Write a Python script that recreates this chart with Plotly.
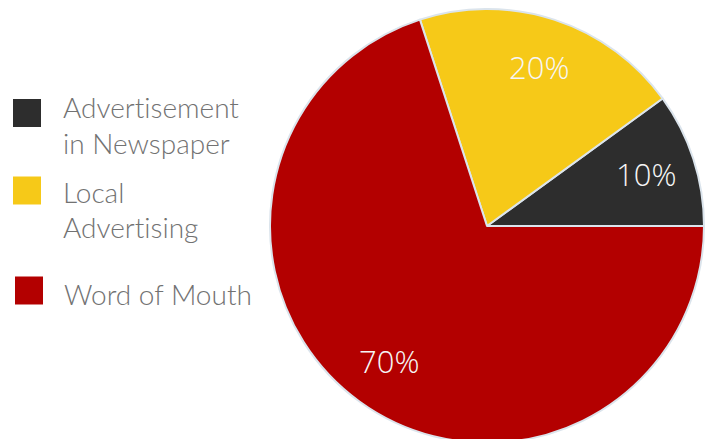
import math
import plotly.graph_objects as go

# Lead-source shares
categories = ["Advertisement in Newspaper", "Local Advertising", "Word of Mouth"]
legend_lines = [["Advert\u200cisement", "in Newspaper"], ["Local", "Advert\u200cising"], ["Word of Mouth"]]
values = [10, 20, 70]
colors = ["#2d2d2d", "#f6c918", "#b30000"]

W, H = 705, 444

# pie placement (pixels)
pie_left, pie_right = 270, 704
pie_top = 9
pie_size = pie_right - pie_left
total = sum(values)

# first slice starts at 3 o'clock and slices run counterclockwise
first_span = 360 * values[0] / total

fig = go.Figure(
    go.Pie(
        labels=categories,
        values=values,
        sort=False,
        direction="counterclockwise",
        rotation=90 - first_span,
        marker=dict(colors=colors, line=dict(color="#dbe4ec", width=2)),
        textinfo="none",
        hoverinfo="label+percent",
        showlegend=False,
        domain=dict(x=[pie_left / W, pie_right / W],
                    y=[1 - (pie_top + pie_size) / H, 1 - pie_top / H]),
    )
)

# percentage labels placed at each slice's mid-angle
cx = (pie_left + pie_right) / 2
cy = pie_top + pie_size / 2
R = pie_size / 2
start = 0.0
annotations = []
for v in values:
    span = 360 * v / total
    mid = math.radians(start + span / 2)
    start += span
    px = cx + 0.77 * R * math.cos(mid)
    py = cy - 0.77 * R * math.sin(mid)
    annotations.append(dict(
        x=px / W, y=1 - py / H, xref="paper", yref="paper",
        text=f"{round(100 * v / total)}%", showarrow=False,
        font=dict(family="Open Sans", size=31, color="#f6f6f6", weight=300),
        xanchor="center", yanchor="middle",
    ))

# hand-built legend: swatches and label lines
swatch_rows = [113, 190.5, 290.5]
swatch_x = [13, 13, 15]
line_rows = [[107, 143], [192, 227], [294]]
text_x = [61, 61, 62]
shapes = []
for lines, col, yc, sx, tx, rows in zip(legend_lines, colors, swatch_rows, swatch_x, text_x, line_rows):
    shapes.append(dict(
        type="rect", xref="paper", yref="paper",
        x0=sx / W, x1=(sx + 28) / W, y0=1 - (yc + 14) / H, y1=1 - (yc - 14) / H,
        fillcolor=col, line=dict(width=0),
    ))
    for line, ly in zip(lines, rows):
        annotations.append(dict(
            x=tx / W, y=1 - ly / H, xref="paper", yref="paper",
            text=line, showarrow=False, align="left",
            font=dict(family="Lato", size=28, color="#727272", weight=300),
            xanchor="left", yanchor="middle",
        ))

fig.update_layout(
    width=W, height=H,
    margin=dict(l=0, r=0, t=0, b=0),
    paper_bgcolor="white",
    plot_bgcolor="white",
    annotations=annotations,
    shapes=shapes,
)

fig.write_html("out.html")
